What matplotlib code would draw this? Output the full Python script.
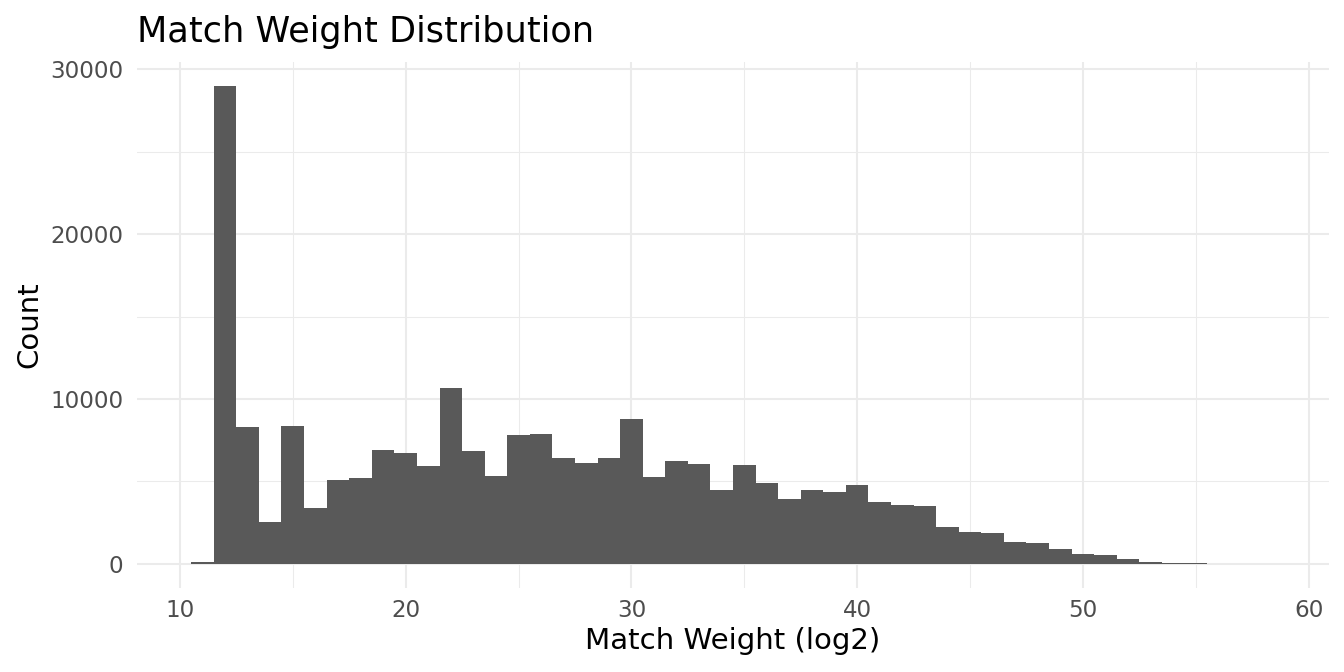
import matplotlib
matplotlib.use("Agg")
import matplotlib.pyplot as plt
from matplotlib.ticker import MultipleLocator

plt.rcParams['font.family'] = ['DejaVu Sans']

# Histogram bins (binwidth 1, edges at n+0.5)
bin_centers = list(range(11, 59))
counts = [100, 29000, 8300, 2520, 8350, 3370, 5070, 5210, 6890, 6710,
          5920, 10660, 6830, 5310, 7800, 7860, 6400, 6100, 6400, 8770,
          5250, 6220, 6040, 4460, 5980, 4890, 3920, 4460, 4340, 4770,
          3730, 3550, 3490, 2220, 1910, 1850, 1310, 1240, 880, 580,
          520, 270, 90, 40, 20, 0, 0, 0]

title = "Match Weight Distribution"
xlabel = "Match Weight (log2)"
ylabel = "Count"
x_ticks = [10, 20, 30, 40, 50, 60]
y_ticks = [0, 10000, 20000, 30000]

W, H = 1344, 672
fig = plt.figure(figsize=(W / 100, H / 100), dpi=100)
left, right, top, bottom = 137 / W, 1329 / W, 62 / H, 587.7 / H
ax = fig.add_axes([left, 1 - bottom, right - left, bottom - top])

ax.bar(bin_centers, counts, width=1.0, align='center', color='#595959',
       linewidth=0, zorder=3)

lo = bin_centers[0] - 0.5
hi = bin_centers[-1] + 0.5
rng = hi - lo
ax.set_xlim(lo - 0.05 * rng, hi + 0.05 * rng)
ymax = max(counts)
ax.set_ylim(-0.05 * ymax, ymax * 1.05)

ax.set_xticks(x_ticks)
ax.set_yticks(y_ticks)
ax.xaxis.set_minor_locator(MultipleLocator(5))
ax.yaxis.set_minor_locator(MultipleLocator(5000))
ax.grid(which='major', color='#EBEBEB', linewidth=1.5, zorder=0)
ax.grid(which='minor', color='#EBEBEB', linewidth=0.75, zorder=0)
ax.set_axisbelow(True)
for s in ax.spines.values():
    s.set_visible(False)
ax.tick_params(which='both', length=0)
ax.tick_params(axis='x', labelsize=16.6, labelcolor='#4D4D4D', pad=8)
ax.tick_params(axis='y', labelsize=16.6, labelcolor='#4D4D4D', pad=10)

ax.set_xlabel(xlabel, fontsize=21.1, color='black', labelpad=4)
ax.set_ylabel(ylabel, fontsize=21.1, color='black', labelpad=5)

fig.text(left, 1 - 41.7 / H, title, fontsize=25.3, color='black',
         ha='left', va='baseline')

fig.savefig("out.png", dpi=100, facecolor='white')
